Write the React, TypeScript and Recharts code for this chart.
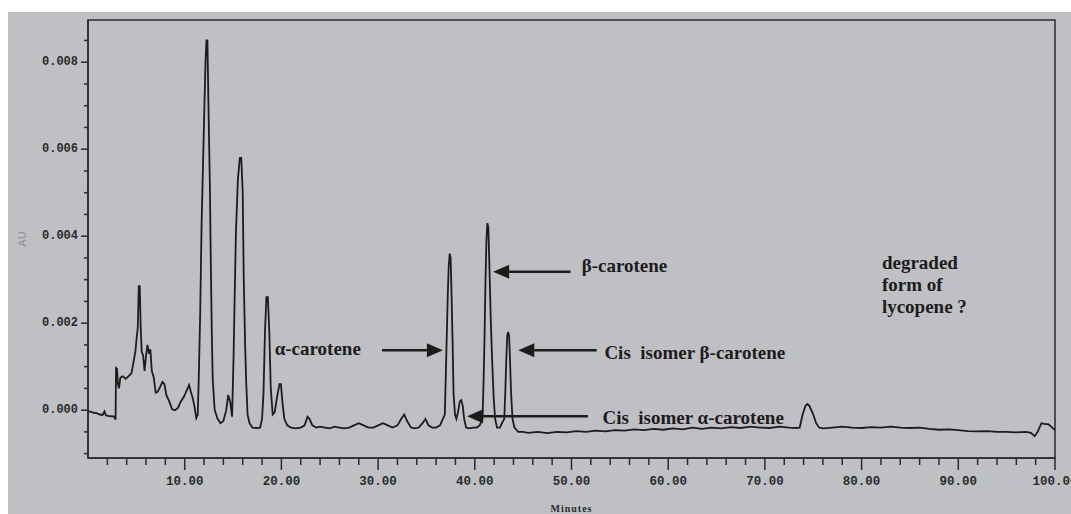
import { LineChart, Line, XAxis, YAxis, ReferenceArea, ReferenceLine, ReferenceDot } from 'recharts'

// retention time (min) and absorbance (AU)
const minutes = [
  0, 0.3, 0.6, 0.9, 1.2, 1.5, 1.7, 1.85, 2.1, 2.4,
  2.7, 2.85, 2.9, 3.0, 3.1, 3.2, 3.35, 3.6, 3.9, 4.2,
  4.5, 4.7, 4.9, 5.05, 5.15, 5.25, 5.35, 5.45, 5.55, 5.7,
  5.85, 6.0, 6.15, 6.3, 6.45, 6.6, 6.8, 7.0, 7.2, 7.5,
  7.7, 7.9, 8.1, 8.4, 8.7, 9.0, 9.3, 9.6, 9.9, 10.2,
  10.45, 10.6, 10.8, 11.0, 11.2, 11.35, 11.45, 11.6, 11.75, 11.9,
  12.05, 12.15, 12.25, 12.35, 12.45, 12.6, 12.7, 12.8, 12.9, 13.1,
  13.4, 13.7, 14.0, 14.3, 14.5, 14.7, 14.9, 15.05, 15.15, 15.3,
  15.5, 15.7, 15.85, 16.0, 16.1, 16.25, 16.35, 16.5, 16.7, 17.0,
  17.4, 17.8, 18.0, 18.15, 18.3, 18.45, 18.6, 18.75, 18.9, 19.1,
  19.3, 19.55, 19.8, 19.95, 20.1, 20.3, 20.6, 21.0, 21.5, 22.0,
  22.4, 22.7, 22.9, 23.2, 23.6, 24.0, 24.5, 25.0, 25.5, 26.0,
  26.5, 27.0, 27.5, 28.0, 28.5, 29.0, 29.5, 30.0, 30.5, 31.0,
  31.5, 32.0, 32.4, 32.7, 33.0, 33.4, 33.8, 34.2, 34.6, 34.9,
  35.2, 35.6, 36.0, 36.4, 36.7, 36.9, 37.0, 37.1, 37.2, 37.3,
  37.4, 37.5, 37.6, 37.7, 37.8, 37.95, 38.1, 38.3, 38.45, 38.6,
  38.75, 38.9, 39.1, 39.4, 39.8, 40.2, 40.5, 40.8, 40.9, 41.0,
  41.1, 41.2, 41.3, 41.4, 41.5, 41.65, 41.8, 41.95, 42.1, 42.3,
  42.6, 42.8, 43.05, 43.15, 43.25, 43.35, 43.45, 43.55, 43.65, 43.75,
  43.9, 44.1, 44.5, 45.0, 45.5, 46.5, 47.5, 48.5, 49.5, 50.5,
  51.5, 52.5, 53.5, 54.5, 55.5, 56.5, 57.5, 58.5, 59.5, 60.5,
  61.5, 62.5, 63.5, 64.5, 65.5, 66.5, 67.5, 68.5, 69.5, 70.5,
  71.5, 72.5, 73.2, 73.6, 73.9, 74.2, 74.4, 74.6, 74.8, 75.0,
  75.3, 75.6, 76, 77, 78, 79, 80, 81, 82, 83,
  84, 85, 86, 87, 88, 89, 90, 91, 92, 93,
  94, 95, 96, 97, 97.5, 97.9, 98.2, 98.6, 99.0, 99.3,
  99.6, 100,
]

const absorbance = [
  -0.00002, -0.00004, -0.00006, -0.00007, -0.0001, -0.00011, -0.00003, -0.00012, -0.00013, -0.00014,
  -0.00015, -0.00022, 0.00097, 0.00095, 0.0006, 0.0005, 0.00075, 0.00078, 0.00072, 0.00078,
  0.00085, 0.0011, 0.00135, 0.0017, 0.0019, 0.00285, 0.00285, 0.0019, 0.00135, 0.00125,
  0.0009, 0.00125, 0.0015, 0.0013, 0.0014, 0.0009, 0.00075, 0.0004, 0.00042, 0.00055,
  0.00065, 0.0006, 0.00035, 0.0002, 0.00002, 0, 0.00005, 0.0002, 0.0003, 0.00045,
  0.00058, 0.00045, 0.0003, 0.0001, -0.00018, -0.0001, 0.0007, 0.0022, 0.0043, 0.0057,
  0.0071, 0.008, 0.0085, 0.0085, 0.0071, 0.0052, 0.0034, 0.0018, 0.0007, 0,
  -0.0002, -0.0003, -0.00025, 0, 0.00035, 0.0002, -0.00015, 0.0012, 0.0024, 0.0041,
  0.0053, 0.0058, 0.0058, 0.005, 0.0031, 0.0015, 0.0007, -0.0001, -0.0003, -0.0004,
  -0.00041, -0.0004, -0.0002, 0.0004, 0.0018, 0.0026, 0.0026, 0.0018, 0.0005, -0.0001,
  -0.00005, 0.0003, 0.0006, 0.0006, 0.0002, -0.0002, -0.00035, -0.0004, -0.00042, -0.0004,
  -0.00035, -0.00015, -0.0002, -0.00035, -0.0004, -0.00038, -0.0004, -0.00042, -0.00038, -0.0004,
  -0.00042, -0.0004, -0.00035, -0.0003, -0.00035, -0.0004, -0.0004, -0.00035, -0.0003, -0.00035,
  -0.0004, -0.00035, -0.0002, -0.0001, -0.00025, -0.0004, -0.00042, -0.0004, -0.0003, -0.0002,
  -0.00035, -0.0004, -0.0004, -0.00035, -0.0002, -0.0001, 0.0008, 0.0017, 0.0026, 0.0033,
  0.0036, 0.0035, 0.0026, 0.0016, 0.0004, -0.0001, -0.0002, 0, 0.0002, 0.00023,
  0.0001, -0.0002, -0.0004, -0.00042, -0.0004, -0.0004, -0.00035, -0.0002, 0.0006, 0.0016,
  0.0029, 0.0039, 0.0043, 0.0042, 0.0034, 0.0021, 0.0011, 0.0003, -0.0002, -0.0004,
  -0.0004, -0.0003, -0.0002, 0.0004, 0.0011, 0.0017, 0.0018, 0.0017, 0.0011, 0.0004,
  -0.0002, -0.0004, -0.0005, -0.0005, -0.00052, -0.0005, -0.00053, -0.0005, -0.00051, -0.00048,
  -0.0005, -0.00047, -0.00049, -0.00046, -0.00047, -0.00044, -0.00046, -0.00043, -0.00045, -0.00042,
  -0.00044, -0.0004, -0.00043, -0.0004, -0.00042, -0.00039, -0.00041, -0.00038, -0.0004, -0.00041,
  -0.00038, -0.0004, -0.00041, -0.0004, -0.0001, 0.0001, 0.00014, 0.0001, 0, -0.0001,
  -0.0003, -0.0004, -0.00042, -0.0004, -0.00038, -0.0004, -0.00041, -0.00039, -0.0004, -0.00038,
  -0.0004, -0.00041, -0.0004, -0.00043, -0.00045, -0.00044, -0.00046, -0.00048, -0.00049, -0.00048,
  -0.0005, -0.0005, -0.00051, -0.0005, -0.00052, -0.0006, -0.0005, -0.0003, -0.00032, -0.00032,
  -0.00038, -0.00046,
]

const xTicks = [
  2, 4, 6, 8, 10, 12, 14, 16, 18, 20, 22, 24, 26, 28, 30, 32, 34, 36, 38, 40,
  42, 44, 46, 48, 50, 52, 54, 56, 58, 60, 62, 64, 66, 68, 70, 72, 74, 76, 78, 80,
  82, 84, 86, 88, 90, 92, 94, 96, 98, 100,
]
const xLabelled = [10, 20, 30, 40, 50, 60, 70, 80, 90, 100]

const yTicks = [
  -0.001, -0.0005, 0, 0.0005, 0.001, 0.0015, 0.002, 0.0025, 0.003, 0.0035,
  0.004, 0.0045, 0.005, 0.0055, 0.006, 0.0065, 0.007, 0.0075, 0.008, 0.0085,
]
const yLabelled = [0, 0.002, 0.004, 0.006, 0.008]

const Y_MIN = -0.0011
const Y_MAX = 0.00897

// peak annotations: label anchor, and arrows from tail to tip
const alphaLabel = { t: 19.3, v: 0.00142 }
const alphaArrow = { from: 30.4, to: 36.7, v: 0.00138 }
const betaLabel = { t: 51.05, v: 0.00333 }
const betaArrow = { from: 49.9, to: 41.9, v: 0.00318 }
const cisBetaLabel = { t: 53.4, v: 0.00134 }
const cisBetaArrow = { from: 52.6, to: 44.5, v: 0.00138 }
const cisAlphaLabel = { t: 53.2, v: -0.000155 }
const cisAlphaArrow = { from: 51.7, to: 39.2, v: -0.00014 }
const lycopeneLabel = { t: 82.1, v: 0.00341 }

const INK = '#1c1c1c'
const AXIS = '#2a2a2a'
const BG = '#bfc0c4'
const NOTE_FONT = '"Liberation Serif", "Times New Roman", serif'
const TICK_FONT = '"Liberation Mono", "DejaVu Sans Mono", monospace'

const data = minutes.map((t, i) => ({ t, au: absorbance[i] }))

const near = (list: number[], v: number) => list.some((l) => Math.abs(l - v) < 1e-9)

function XTick({ x, y, payload }: any) {
  const major = near(xLabelled, payload.value)
  return (
    <g>
      <line x1={x} x2={x} y1={y} y2={y + (major ? 12 : 7)} stroke={AXIS} strokeWidth={1.5} />
      {major && (
        <text x={x} y={y + 24} textAnchor="middle" dominantBaseline="central" fontFamily={TICK_FONT} fontWeight="bold" fontSize={12.5} fill={AXIS}>
          {payload.value.toFixed(2)}
        </text>
      )}
    </g>
  )
}

function YTick({ x, y, payload }: any) {
  const major = near(yLabelled, payload.value)
  return (
    <g>
      <line x1={x} x2={x - (major ? 7 : 4)} y1={y} y2={y} stroke={AXIS} strokeWidth={1.5} />
      {major && (
        <text x={x - 10} y={y} textAnchor="end" dominantBaseline="central" fontFamily={TICK_FONT} fontWeight="bold" fontSize={12} fill={AXIS}>
          {Math.abs(payload.value).toFixed(3)}
        </text>
      )}
    </g>
  )
}

function Arrow({ x1, y1, x2, y2 }: any) {
  const dir = x2 > x1 ? 1 : -1
  const head = 16
  const half = 7
  return (
    <g>
      <line x1={x1} y1={y1} x2={x2 - dir * head} y2={y2} stroke={INK} strokeWidth={2.5} />
      <polygon points={`${x2},${y2} ${x2 - dir * head},${y2 - half} ${x2 - dir * head},${y2 + half}`} fill={INK} />
    </g>
  )
}

function Note({ cx, cy, lines }: any) {
  return (
    <text x={cx} y={cy} fontFamily={NOTE_FONT} fontWeight="bold" fontSize={19} fill={INK} dominantBaseline="central" style={{ whiteSpace: 'pre' }}>
      {lines.map((l: string, i: number) => (
        <tspan key={i} x={cx} dy={i === 0 ? 0 : 22}>
          {l}
        </tspan>
      ))}
    </text>
  )
}

export default function App() {
  return (
    <div>
      <style>{'body{margin:0;overflow:hidden}'}</style>
      <div style={{ marginLeft: 8, marginTop: 12, width: 1063, height: 502, background: BG, overflow: 'hidden' }}>
        <LineChart width={1063} height={502} data={data} margin={{ top: 8, right: 16, bottom: 0, left: 0 }}>
          <XAxis
            dataKey="t"
            type="number"
            domain={[0, 100]}
            ticks={xTicks}
            interval={0}
            allowDataOverflow
            height={56}
            tickSize={0}
            tickMargin={0}
            tickLine={false}
            tick={<XTick />}
            axisLine={{ stroke: AXIS, strokeWidth: 1.5 }}
            label={{ value: 'Minutes', position: 'insideBottom', offset: 2, fontSize: 10, fontWeight: 'bold', fill: AXIS, letterSpacing: 1 }}
          />
          <YAxis
            type="number"
            domain={[Y_MIN, Y_MAX]}
            ticks={yTicks}
            interval={0}
            allowDataOverflow
            width={80}
            tickSize={0}
            tickMargin={0}
            tickLine={false}
            tick={<YTick />}
            axisLine={{ stroke: AXIS, strokeWidth: 1.5 }}
            label={{
              content: () => (
                <text x={14} y={227} transform="rotate(-90 14 227)" textAnchor="middle" dominantBaseline="central" fontFamily="DejaVu Sans" fontSize={11} fill="#8e8f93">
                  AU
                </text>
              ),
            }}
          />
          <ReferenceArea x1={0} x2={100} y1={Y_MIN} y2={Y_MAX} fill="none" stroke={AXIS} strokeWidth={1.5} />
          <Line type="linear" dataKey="au" stroke={INK} strokeWidth={1.8} dot={false} isAnimationActive={false} />

          <ReferenceLine segment={[{ x: alphaArrow.from, y: alphaArrow.v }, { x: alphaArrow.to, y: alphaArrow.v }]} shape={(p: any) => <Arrow {...p} />} />
          <ReferenceLine segment={[{ x: betaArrow.from, y: betaArrow.v }, { x: betaArrow.to, y: betaArrow.v }]} shape={(p: any) => <Arrow {...p} />} />
          <ReferenceLine segment={[{ x: cisBetaArrow.from, y: cisBetaArrow.v }, { x: cisBetaArrow.to, y: cisBetaArrow.v }]} shape={(p: any) => <Arrow {...p} />} />
          <ReferenceLine segment={[{ x: cisAlphaArrow.from, y: cisAlphaArrow.v }, { x: cisAlphaArrow.to, y: cisAlphaArrow.v }]} shape={(p: any) => <Arrow {...p} />} />

          <ReferenceDot x={alphaLabel.t} y={alphaLabel.v} r={0} shape={(p: any) => <Note cx={p.cx} cy={p.cy} lines={['α-carotene']} />} />
          <ReferenceDot x={betaLabel.t} y={betaLabel.v} r={0} shape={(p: any) => <Note cx={p.cx} cy={p.cy} lines={['β-carotene']} />} />
          <ReferenceDot x={cisBetaLabel.t} y={cisBetaLabel.v} r={0} shape={(p: any) => <Note cx={p.cx} cy={p.cy} lines={['Cis  isomer β-carotene']} />} />
          <ReferenceDot x={cisAlphaLabel.t} y={cisAlphaLabel.v} r={0} shape={(p: any) => <Note cx={p.cx} cy={p.cy} lines={['Cis  isomer α-carotene']} />} />
          <ReferenceDot x={lycopeneLabel.t} y={lycopeneLabel.v} r={0} shape={(p: any) => <Note cx={p.cx} cy={p.cy} lines={['degraded', 'form of', 'lycopene ?']} />} />
        </LineChart>
      </div>
    </div>
  )
}
